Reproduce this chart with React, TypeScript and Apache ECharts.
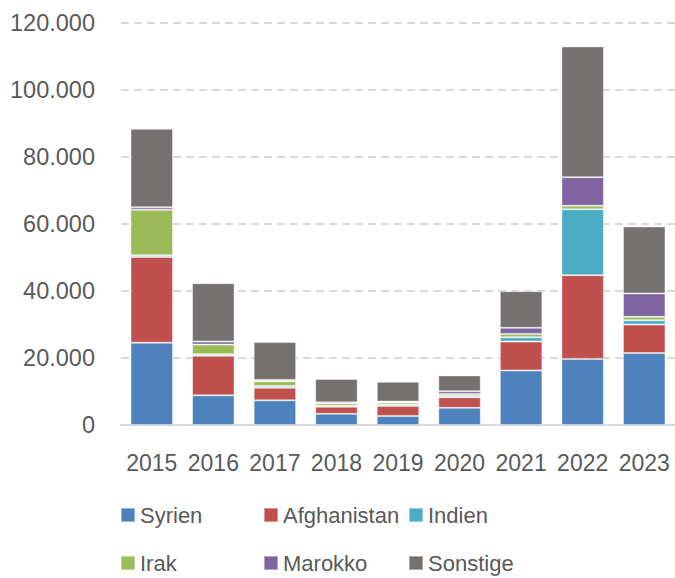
import React, { useEffect, useRef } from "react";
import * as echarts from "echarts";

const years = ["2015", "2016", "2017", "2018", "2019", "2020", "2021", "2022", "2023"];
const syrien = [24547, 8845, 7356, 3329, 2708, 5121, 16284, 19724, 21457];
const afghanistan = [25563, 11794, 3781, 2120, 2979, 3137, 8593, 24977, 8500];
const indien = [500, 500, 500, 300, 400, 400, 1300, 19617, 1300];
const irak = [13633, 2862, 1400, 700, 600, 600, 1000, 1100, 1000];
const marokko = [700, 900, 400, 300, 300, 800, 1800, 8500, 7000];
const sonstige = [23397, 17384, 11298, 6997, 5899, 4717, 10953, 39000, 19975];

const seriesNames = ["Syrien", "Afghanistan", "Indien", "Irak", "Marokko", "Sonstige"];
const seriesData = [syrien, afghanistan, indien, irak, marokko, sonstige];
const colors = ["#4F81BD", "#C0504D", "#4BACC6", "#9BBB59", "#8064A2", "#767171"];
const yTicks = { min: 0, max: 120000, interval: 20000 };

const FONT = "Liberation Sans";

export default function App() {
  const ref = useRef<HTMLDivElement>(null);
  useEffect(() => {
    if (!ref.current) return;
    const chart = echarts.init(ref.current, null, { renderer: "svg" });
    const legendPos = [
      { left: 120, top: 504 },
      { left: 263, top: 504 },
      { left: 408, top: 504 },
      { left: 120, top: 552 },
      { left: 263, top: 552 },
      { left: 408, top: 552 },
    ];
    chart.setOption({
      animation: false,
      color: colors,
      grid: { left: 121, right: -5, top: 22.7, bottom: 153, containLabel: false },
      legend: seriesNames.map((n, i) => ({
        data: [n],
        left: legendPos[i].left,
        top: legendPos[i].top,
        padding: 0,
        itemWidth: 14,
        itemHeight: 14,
        icon: "rect",
        textStyle: { fontFamily: FONT, fontSize: 22, color: "#595959" },
        selectedMode: false,
      })),
      xAxis: {
        type: "category",
        data: years,
        axisLine: { show: true, lineStyle: { color: "#d9d9d9", width: 2 } },
        axisTick: { show: false },
        axisLabel: { fontFamily: FONT, fontSize: 23, color: "#595959", margin: 26, interval: 0 },
      },
      yAxis: {
        type: "value",
        min: yTicks.min,
        max: yTicks.max,
        interval: yTicks.interval,
        axisLine: { show: false },
        axisTick: { show: false },
        axisLabel: {
          fontFamily: FONT,
          fontSize: 23.5,
          color: "#595959",
          margin: 26,
          formatter: (v: number) => (v === 0 ? "0" : v.toLocaleString("de-DE")),
        },
        splitLine: { lineStyle: { color: "#d9d9d9", width: 2, type: [8, 5] } },
      },
      series: seriesNames.map((n, i) => ({
        name: n,
        type: "bar",
        stack: "total",
        barCategoryGap: "31%",
        data: seriesData[i],
        itemStyle: { color: colors[i], borderColor: "rgba(255,255,255,0.4)", borderWidth: 1 },
      })),
    });
    return () => chart.dispose();
  }, []);
  return (
    <div
      ref={ref}
      style={{ position: "fixed", left: 0, top: 0, width: 675, height: 578, background: "#fff" }}
    />
  );
}
